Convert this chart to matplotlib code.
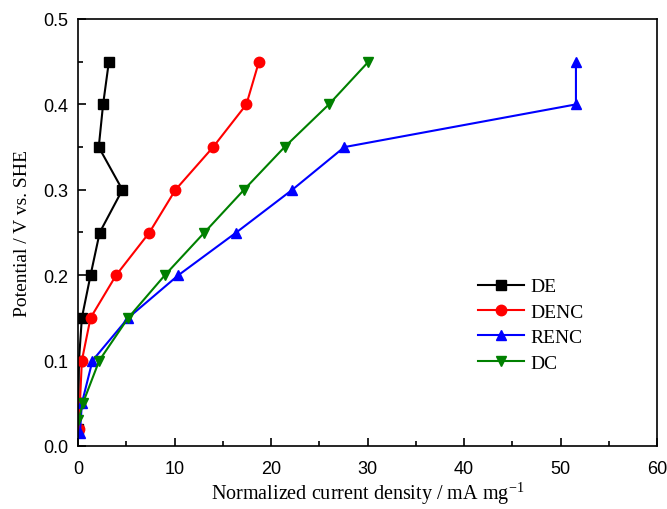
import numpy as np
import matplotlib.pyplot as plt
from matplotlib.ticker import MultipleLocator, FormatStrFormatter

# potentials (V vs. SHE) and normalized current densities (mA mg-1)
de_y = [0.02, 0.05, 0.10, 0.15, 0.20, 0.25, 0.30, 0.35, 0.40, 0.45]
de_x = [0.0, 0.05, 0.1, 0.4, 1.3, 2.25, 4.6, 2.15, 2.6, 3.2]

denc_y = [0.02, 0.05, 0.10, 0.15, 0.20, 0.25, 0.30, 0.35, 0.40, 0.45]
denc_x = [0.1, 0.2, 0.4, 1.3, 3.95, 7.4, 10.1, 14.0, 17.45, 18.75]

renc_y = [0.015, 0.05, 0.10, 0.15, 0.20, 0.25, 0.30, 0.35, 0.40, 0.45]
renc_x = [0.2, 0.4, 1.5, 5.2, 10.4, 16.4, 22.2, 27.6, 51.6, 51.6]

dc_y = [0.03, 0.05, 0.10, 0.15, 0.20, 0.25, 0.30, 0.35, 0.40, 0.45]
dc_x = [0.05, 0.5, 2.2, 5.2, 9.0, 13.1, 17.2, 21.4, 26.0, 30.1]

serif = ['Liberation Serif', 'DejaVu Serif']
sans = ['Liberation Sans', 'DejaVu Sans']
plt.rcParams['mathtext.fontset'] = 'stix'

fig = plt.figure(figsize=(6.67, 5.10), dpi=100)
ax = fig.add_axes([78/667, 1 - 447/510, 579/667, 427/510])

ax.plot(de_x, de_y, '-s', color='black', lw=1.5, ms=6.5, label='DE')
ax.plot(denc_x, denc_y, '-o', color='red', lw=1.5, ms=7.5, label='DENC')
ax.plot(renc_x, renc_y, '-^', color='blue', lw=1.5, ms=7.5, label='RENC')
ax.plot(dc_x, dc_y, '-v', color='green', lw=1.5, ms=7.5, label='DC')

ax.set_xlim(0, 60)
ax.set_ylim(0, 0.5)
ax.xaxis.set_major_locator(MultipleLocator(10))
ax.xaxis.set_minor_locator(MultipleLocator(5))
ax.yaxis.set_major_locator(MultipleLocator(0.1))
ax.yaxis.set_minor_locator(MultipleLocator(0.05))
ax.yaxis.set_major_formatter(FormatStrFormatter('%.1f'))
ax.tick_params(which='both', direction='in', width=1.2)
ax.tick_params(which='major', length=6, labelsize=13)
ax.tick_params(which='minor', length=3.5)
ax.tick_params(axis='x', which='major', pad=10)
ax.tick_params(axis='y', which='major', pad=7)
for lab in ax.get_xticklabels() + ax.get_yticklabels():
    lab.set_family(sans)
for sp in ax.spines.values():
    sp.set_linewidth(1.2)

ax.set_xlabel('Normalized current density / mA mg$^{\\mathregular{-1}}$', fontsize=14.5,
              family=serif, labelpad=2)
ax.set_ylabel('Potential / V vs. SHE', fontsize=14, family=serif, labelpad=9)

ax.legend(loc='upper left', bbox_to_anchor=(0.66, 0.435), frameon=False,
          prop={'family': serif, 'size': 14}, handlelength=2.4,
          handletextpad=0.3, labelspacing=0.4)

plt.savefig('out.png', dpi=100)
